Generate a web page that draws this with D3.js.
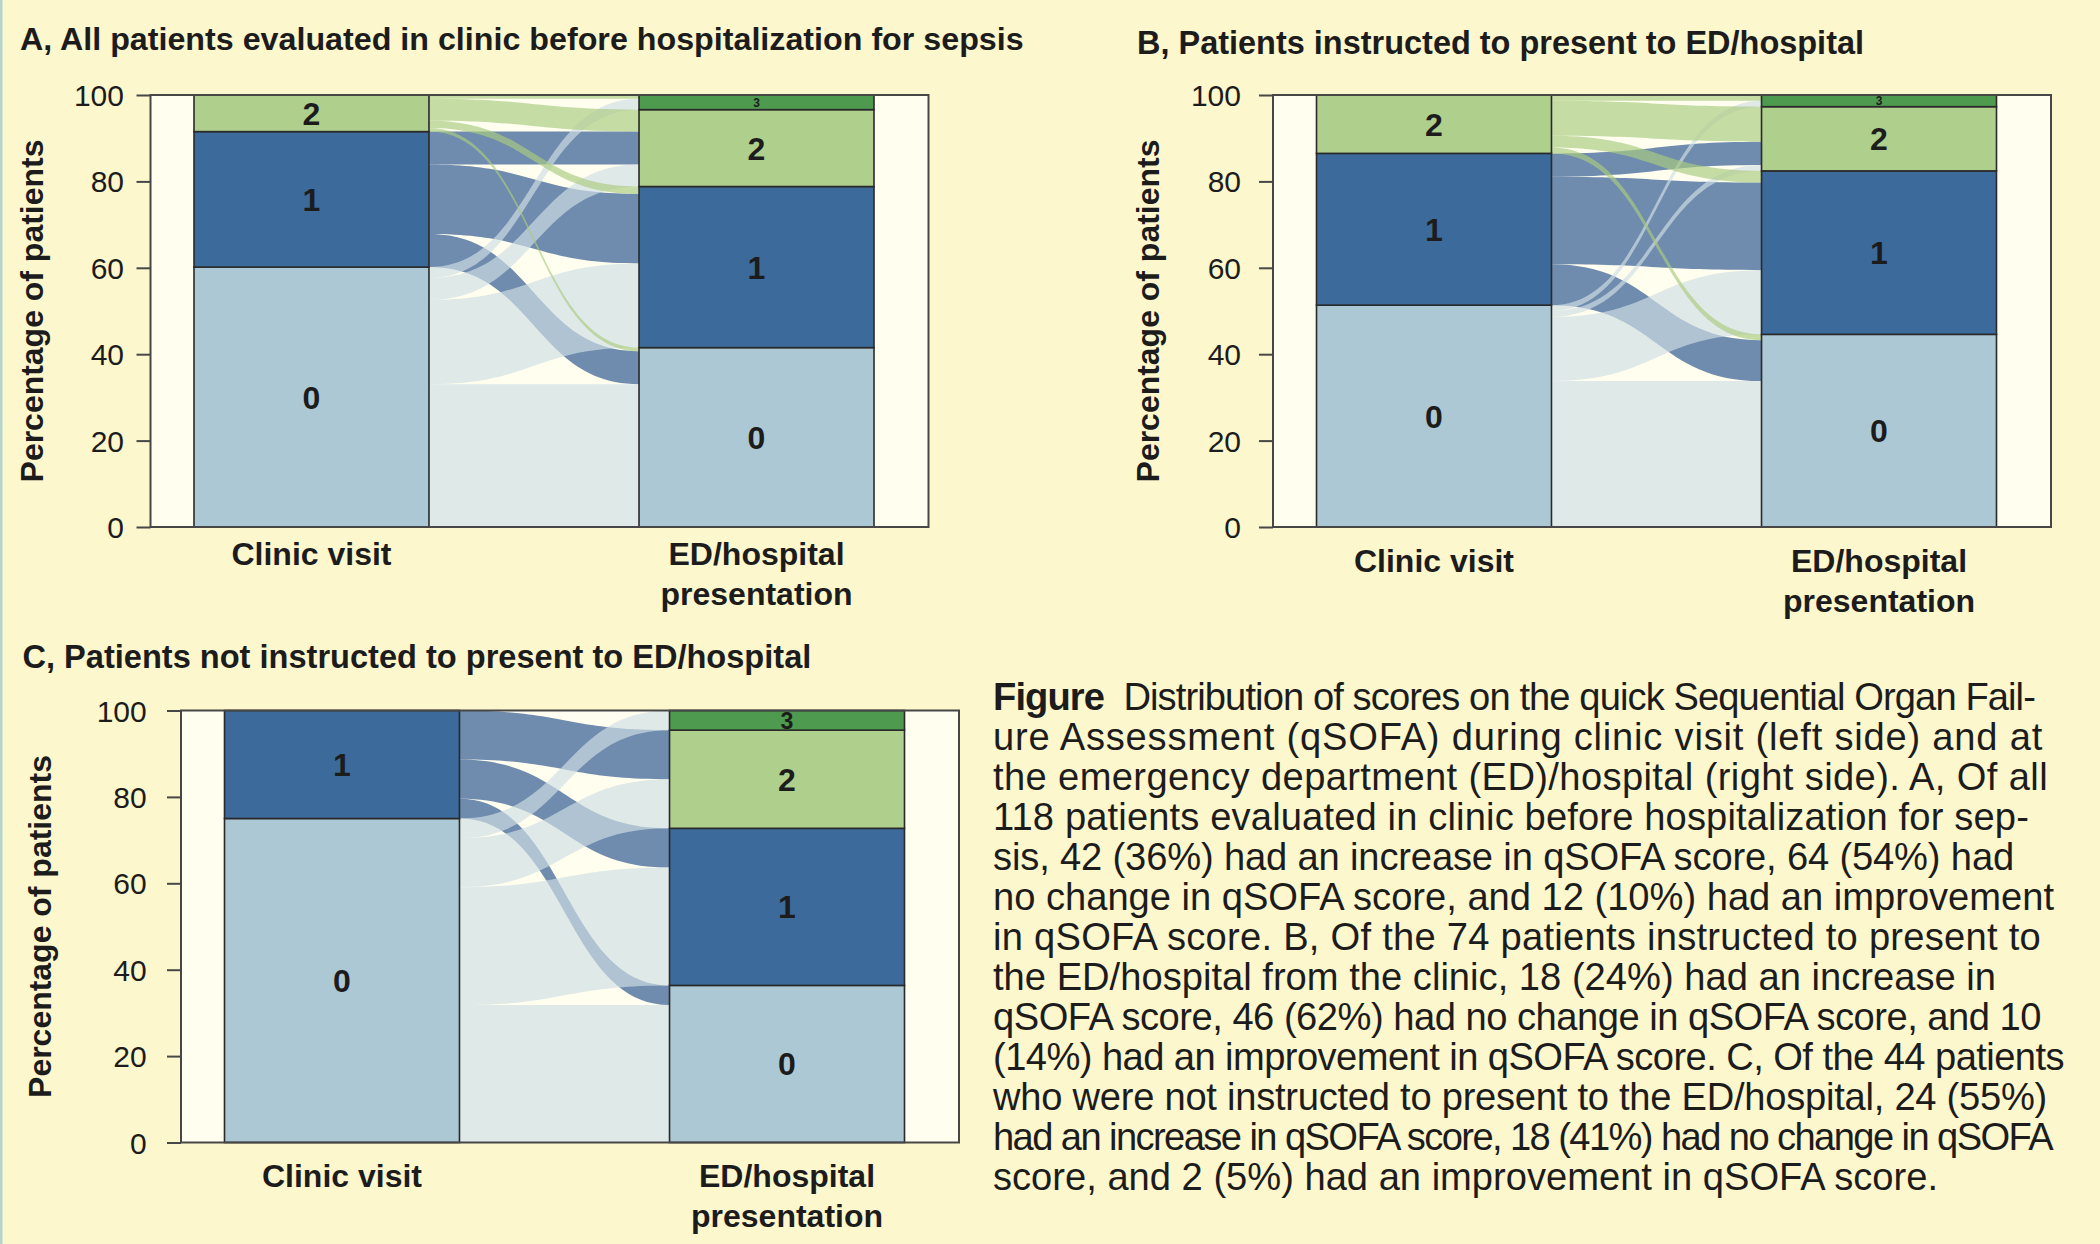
<!DOCTYPE html>
<html><head><meta charset="utf-8">
<script src="https://cdn.jsdelivr.net/npm/d3@7"></script>
<style>
html,body{margin:0;padding:0;background:#FCF7CC;}
svg{display:block;}
</style></head>
<body><svg id="chart" width="2100" height="1244"></svg>
<script>
// ---------------- data ----------------
const scoreLevels = ["0", "1", "2", "3"];
const timepoints = ["Clinic visit", "ED/hospital presentation"];
const timepointLines = [["Clinic visit"], ["ED/hospital", "presentation"]];
const yTicks = [0, 20, 40, 60, 80, 100];
// patient counts: rows = qSOFA score at clinic visit, columns = qSOFA score at ED/hospital (0..3)
const flowsA = [[39, 23, 6, 3], [9, 19, 9, 0], [1, 2, 6, 1]];
const flowsB = [[25, 11, 1, 1], [7, 15, 4, 0], [1, 2, 6, 1]];
const flowsC = [[14, 12, 5, 2], [2, 4, 5, 0]];
const titleA = "A, All patients evaluated in clinic before hospitalization for sepsis";
const titleB = "B, Patients instructed to present to ED/hospital";
const titleC = "C, Patients not instructed to present to ED/hospital";
const yAxisTitle = "Percentage of patients";
const captionLead = "Figure";
const captionLines = [
  "  Distribution of scores on the quick Sequential Organ Fail-",
  "ure Assessment (qSOFA) during clinic visit (left side) and at",
  "the emergency department (ED)/hospital (right side). A, Of all",
  "118 patients evaluated in clinic before hospitalization for sep-",
  "sis, 42 (36%) had an increase in qSOFA score, 64 (54%) had",
  "no change in qSOFA score, and 12 (10%) had an improvement",
  "in qSOFA score. B, Of the 74 patients instructed to present to",
  "the ED/hospital from the clinic, 18 (24%) had an increase in",
  "qSOFA score, 46 (62%) had no change in qSOFA score, and 10",
  "(14%) had an improvement in qSOFA score. C, Of the 44 patients",
  "who were not instructed to present to the ED/hospital, 24 (55%)",
  "had an increase in qSOFA score, 18 (41%) had no change in qSOFA",
  "score, and 2 (5%) had an improvement in qSOFA score."
];

// ---------------- styles / layout ----------------
const FONT = "'Liberation Sans', Arial, Helvetica, sans-serif";
const TEXT = "#1c1c1c";
const barFill = ["#ACC8D5", "#3B6A9B", "#AFCF8D", "#4E9A4E"];
const flowFill = ["#CFDEE4", "#375E93", "#AACB80"];
const flowOpacity = [0.67, 0.72, 0.67];
const flowDrawOrder = [1, 0, 2];
const BOX_W = 778, BOX_H = 432;

const layoutA = {boxX: 150.5, boxY: 95, titleX: 20, titleY: 49.5, titleW: 1004, tickPad: 12.5, yTitleDx: -107.5, xLabelDy: 38};
const layoutB = {boxX: 1273, boxY: 95, titleX: 1137, titleY: 53.5, titleW: 727, tickPad: 18, yTitleDx: -114, xLabelDy: 44.5};
const layoutC = {boxX: 181, boxY: 710.5, titleX: 22.5, titleY: 668, titleW: 789, tickPad: 20.3, yTitleDx: -129.7, xLabelDy: 44.5};

const svg = d3.select("#chart");
svg.append("rect").attr("width", 2100).attr("height", 1244).attr("fill", "#FCF7CC");
svg.append("rect").attr("x", 0).attr("y", 0).attr("width", 2.5).attr("height", 1244).attr("fill", "#B5D3CF");

function fitWidth(sel, target) {
  const w = sel.node().getComputedTextLength();
  const fs = parseFloat(sel.attr("font-size"));
  sel.attr("font-size", (fs * target / w).toFixed(2));
}

function drawPanel(flows, title, L) {
  const g = svg.append("g");
  const y = d3.scaleLinear().domain([0, 100]).range([L.boxY + BOX_H, L.boxY]);
  const x = d3.scaleBand().domain(timepoints)
    .range([L.boxX + 43.5, L.boxX + 723.5]).paddingInner(0.472).paddingOuter(0);
  const bw = x.bandwidth();
  const total = d3.sum(flows, r => d3.sum(r));
  const nSrc = flows.length;
  const clinic = scoreLevels.map((s, i) => i < nSrc ? d3.sum(flows[i]) : 0);
  const ed = scoreLevels.map((s, j) => d3.sum(flows, r => r[j]));
  const rows = [clinic, ed].map((arr, k) => {
    const o = {tp: timepoints[k]};
    scoreLevels.forEach((s, i) => o[s] = arr[i] / total * 100);
    return o;
  });
  const stack = d3.stack().keys(scoreLevels)(rows);

  // panel background
  g.append("rect").attr("x", L.boxX).attr("y", L.boxY).attr("width", BOX_W).attr("height", BOX_H)
    .attr("fill", "#FFFEEF");

  // flows (alluvia)
  const cumC = d3.cumsum([0, ...clinic]);
  const cumE = d3.cumsum([0, ...ed]);
  const ribbons = [];
  flows.forEach((row, i) => row.forEach((n, j) => {
    if (!n) return;
    const aboveL = d3.sum(row.slice(j + 1));
    const lt = cumC[i + 1] - aboveL, lb = lt - n;
    let aboveR = 0;
    for (let k = i + 1; k < nSrc; k++) aboveR += flows[k][j];
    const rt = cumE[j + 1] - aboveR, rb = rt - n;
    ribbons.push({src: i, tgt: j, lt, lb, rt, rb});
  }));
  ribbons.sort((a, b) => flowDrawOrder.indexOf(a.src) - flowDrawOrder.indexOf(b.src));
  const x0 = x(timepoints[0]) + bw, x1 = x(timepoints[1]);
  const xm = (x0 + x1) / 2;
  const yp = v => y(v / total * 100);
  g.selectAll("path.flow").data(ribbons).join("path").attr("class", "flow")
    .attr("d", d => {
      const p = d3.path();
      p.moveTo(x0, yp(d.lt));
      p.bezierCurveTo(xm, yp(d.lt), xm, yp(d.rt), x1, yp(d.rt));
      p.lineTo(x1, yp(d.rb));
      p.bezierCurveTo(xm, yp(d.rb), xm, yp(d.lb), x0, yp(d.lb));
      p.closePath();
      return p.toString();
    })
    .attr("fill", d => flowFill[d.src]).attr("fill-opacity", d => flowOpacity[d.src]);

  // stacked bars (strata)
  const segs = [];
  stack.forEach((series, si) => series.forEach(seg => {
    if (seg[1] - seg[0] > 1e-9) segs.push({level: si, tp: seg.data.tp, y0: seg[0], y1: seg[1]});
  }));
  g.selectAll("rect.seg").data(segs).join("rect").attr("class", "seg")
    .attr("x", d => x(d.tp)).attr("y", d => y(d.y1))
    .attr("width", bw).attr("height", d => y(d.y0) - y(d.y1))
    .attr("fill", d => barFill[d.level]).attr("stroke", "#2A2A2A").attr("stroke-width", 1.6);
  g.selectAll("text.seglab").data(segs).join("text").attr("class", "seglab")
    .attr("x", d => x(d.tp) + bw / 2).attr("y", d => (y(d.y0) + y(d.y1)) / 2)
    .attr("dy", "0.36em").attr("text-anchor", "middle")
    .attr("font-family", FONT).attr("font-weight", "bold").attr("fill", TEXT)
    .attr("font-size", d => {
      const h = y(d.y0) - y(d.y1);
      return Math.min(32, Math.max(12, (h - 10) * 2.4));
    })
    .text(d => scoreLevels[d.level]);

  // panel border
  g.append("rect").attr("x", L.boxX).attr("y", L.boxY).attr("width", BOX_W).attr("height", BOX_H)
    .attr("fill", "none").attr("stroke", "#474747").attr("stroke-width", 2);

  // y axis
  const axis = d3.axisLeft(y).tickValues(yTicks).tickSize(14).tickPadding(L.tickPad).tickFormat(d3.format("d"));
  const ag = g.append("g").attr("transform", `translate(${L.boxX},0)`).call(axis);
  ag.select(".domain").remove();
  ag.selectAll(".tick line").attr("stroke", "#474747").attr("stroke-width", 2);
  ag.selectAll(".tick text").attr("font-family", FONT).attr("font-size", 30).attr("fill", TEXT).attr("dy", "0.35em");

  // y title
  const cy = L.boxY + BOX_H / 2;
  const yt = g.append("text").attr("transform", `translate(${L.boxX + L.yTitleDx},${cy}) rotate(-90)`)
    .attr("text-anchor", "middle").attr("font-family", FONT).attr("font-weight", "bold")
    .attr("font-size", 30).attr("fill", TEXT).text(yAxisTitle);
  fitWidth(yt, 343);

  // x labels
  timepoints.forEach((tp, k) => {
    timepointLines[k].forEach((line, li) => {
      g.append("text").attr("x", x(tp) + bw / 2).attr("y", L.boxY + BOX_H + L.xLabelDy + li * 40)
        .attr("text-anchor", "middle").attr("font-family", FONT).attr("font-weight", "bold")
        .attr("font-size", 32).attr("fill", TEXT).text(line);
    });
  });

  // title
  const tt = g.append("text").attr("x", L.titleX).attr("y", L.titleY)
    .attr("font-family", FONT).attr("font-weight", "bold").attr("font-size", 28).attr("fill", TEXT).text(title);
  fitWidth(tt, L.titleW);
}

drawPanel(flowsA, titleA, layoutA);
drawPanel(flowsB, titleB, layoutB);
drawPanel(flowsC, titleC, layoutC);

// caption
const capX = 993, capY0 = 710, capPitch = 40;
const capRight = [2035, 2043, 2048, 2029, 2014, 2054, 2041, 1996, 2041, 2064, 2047, 2052, 1938];
const cg = svg.append("g").attr("font-family", FONT).attr("fill", TEXT).attr("font-size", 32);
// choose the font size so that the (unjustified) last line has natural width
const probe = cg.append("text").style("white-space", "pre").text(captionLines[captionLines.length - 1]);
const capFS = 32 * (capRight[capRight.length - 1] - capX) / probe.node().getComputedTextLength();
probe.remove();
cg.attr("font-size", capFS.toFixed(2));
captionLines.forEach((line, i) => {
  const t = cg.append("text").attr("x", capX).attr("y", capY0 + i * capPitch).style("white-space", "pre");
  let nChars = line.length;
  if (i === 0) {
    t.append("tspan").attr("font-weight", "bold").text(captionLead);
    nChars += captionLead.length;
  }
  t.append("tspan").text(line);
  const w = t.node().getComputedTextLength();
  const ls = (capRight[i] - capX - w) / nChars;
  t.attr("letter-spacing", ls.toFixed(3));
});
</script>
</body></html>
